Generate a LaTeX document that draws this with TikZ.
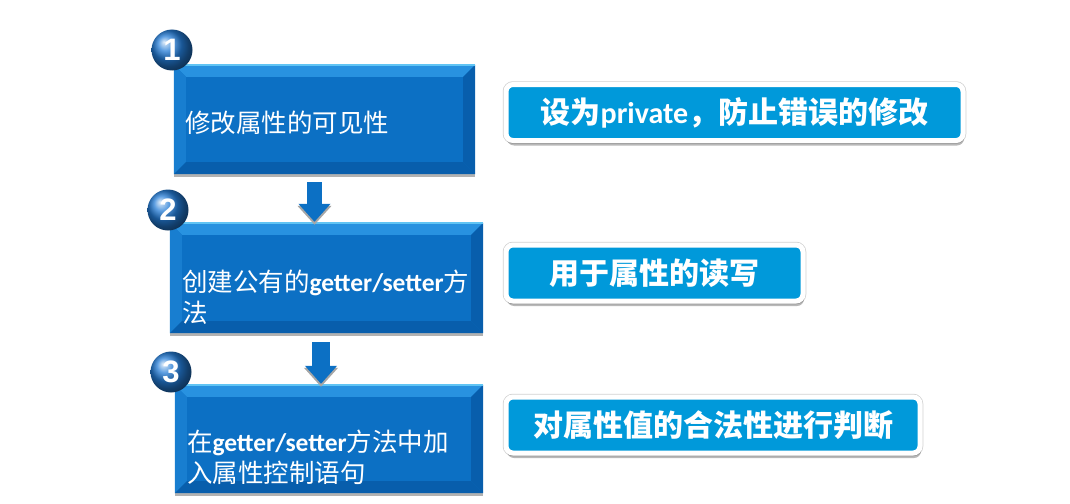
\documentclass[tikz,border=0pt]{standalone}
\usepackage{fontspec}
\newfontfamily\cjk{Noto Sans CJK SC}
\newfontfamily\latinfont{Carlito}
\newfontfamily\numfont{Liberation Sans}
\usetikzlibrary{positioning, calc, arrows.meta, shadows}
\definecolor{stepblue}{RGB}{12,112,196}
\definecolor{steplight}{RGB}{40,146,224}
\definecolor{stepmid}{RGB}{24,126,208}
\definecolor{stepdark}{RGB}{8,94,172}
\definecolor{stepedge}{RGB}{96,196,244}
\definecolor{notebl}{RGB}{0,153,218}
\definecolor{ballblue}{RGB}{36,124,214}
\newcommand{\lat}[1]{{\latinfont\bfseries #1}}
\newcommand{\bevel}[1]{%
    \fill[steplight] (#1.north west)--(#1.north east)--([shift={(-12pt,-12pt)}]#1.north east)--([shift={(12pt,-12pt)}]#1.north west)--cycle;
    \fill[stepmid] (#1.north west)--([shift={(12pt,-12pt)}]#1.north west)--([shift={(12pt,12pt)}]#1.south west)--(#1.south west)--cycle;
    \fill[stepdark] (#1.north east)--([shift={(-12pt,-12pt)}]#1.north east)--([shift={(-12pt,12pt)}]#1.south east)--(#1.south east)--cycle;
    \fill[stepdark] (#1.south west)--([shift={(12pt,12pt)}]#1.south west)--([shift={(-12pt,12pt)}]#1.south east)--(#1.south east)--cycle;
    \draw[stepedge,line width=1.5pt] (#1.north west)--(#1.north east);}

\begin{document}
\begin{tikzpicture}[x=1pt,y=-1pt,
    stepbox/.style={rectangle,fill=stepblue,inner sep=0pt,
        drop shadow={shadow xshift=0pt,shadow yshift=-3pt,fill=black,opacity=0.3}},
    steptext/.style={anchor=west,inner sep=0pt,align=left,text=white,
        font=\cjk\fontsize{25.5}{31}\selectfont},
    stepnum/.style={circle,minimum size=41pt,inner sep=0pt,shading=ball,ball color=ballblue,
        text=white,font=\numfont\bfseries\fontsize{31}{31}\selectfont},
    flowarrow/.style={stepblue,line width=#1,-{Triangle[width=31pt,length=18pt]}},
    arrowshadow/.style={black!35,line width=#1,-{Triangle[width=33pt,length=19pt]},
        transform canvas={yshift=-3pt}},
    notebox/.style={rectangle,rounded corners=7pt,fill=notebl,draw=white,line width=5pt,
        preaction={draw=black!18,line width=6.5pt},
        inner sep=0pt,minimum height=56pt,text=white,
        font=\cjk\bfseries\fontsize{30}{30}\selectfont,
        drop shadow={shadow xshift=1pt,shadow yshift=-5pt,fill=black,opacity=0.28}}]
    \useasboundingbox (0,0) rectangle (1070,503);
    % steps
    \node[stepbox,minimum width=301pt,minimum height=109pt] (s1) at (324.5,119.5) {};
    \node[stepbox,minimum width=313pt,minimum height=110pt] (s2) at (326.5,278) {};
    \node[stepbox,minimum width=308pt,minimum height=108pt] (s3) at (329,439) {};
    \bevel{s1}
    \bevel{s2}
    \bevel{s3}
    \node[steptext] (t1) at ([xshift=11pt,yshift=-3pt]s1.west) {修改属性的可见性};
    \node[steptext] (t2) at ([xshift=12pt,yshift=-19pt]s2.west) {创建公有的\lat{getter/setter}方\\法};
    \node[steptext] (t3) at ([xshift=12pt,yshift=-18pt]s3.west) {在\lat{getter/setter}方法中加\\入属性控制语句};
    \node[stepnum] (n1) at (172,50) {1};
    \node[stepnum] (n2) at (168,210) {2};
    \node[stepnum] (n3) at (171,372) {3};
    % arrows
    \draw[arrowshadow=15pt] ($(s2.north |- s1.south)+(-12,8)$) -- ($(s2.north)+(-12,-1)$);
    \draw[flowarrow=15pt] ($(s2.north |- s1.south)+(-12,8)$) -- ($(s2.north)+(-12,-1)$);
    \draw[arrowshadow=18pt] ($(s3.north |- s2.south)+(-8,9)$) -- ($(s3.north)+(-8,-1)$);
    \draw[flowarrow=18pt] ($(s3.north |- s2.south)+(-8,9)$) -- ($(s3.north)+(-8,-1)$);
    % notes
    \node[notebox,minimum width=457pt] (r1) at (734.5,112.5) {设为\lat{private}，防止错误的修改};
    \node[notebox,minimum width=297pt] (r2) at (654.5,273) {用于属性的读写};
    \node[notebox,minimum width=414pt] (r3) at (713,425) {对属性值的合法性进行判断};
\end{tikzpicture}
\end{document}
